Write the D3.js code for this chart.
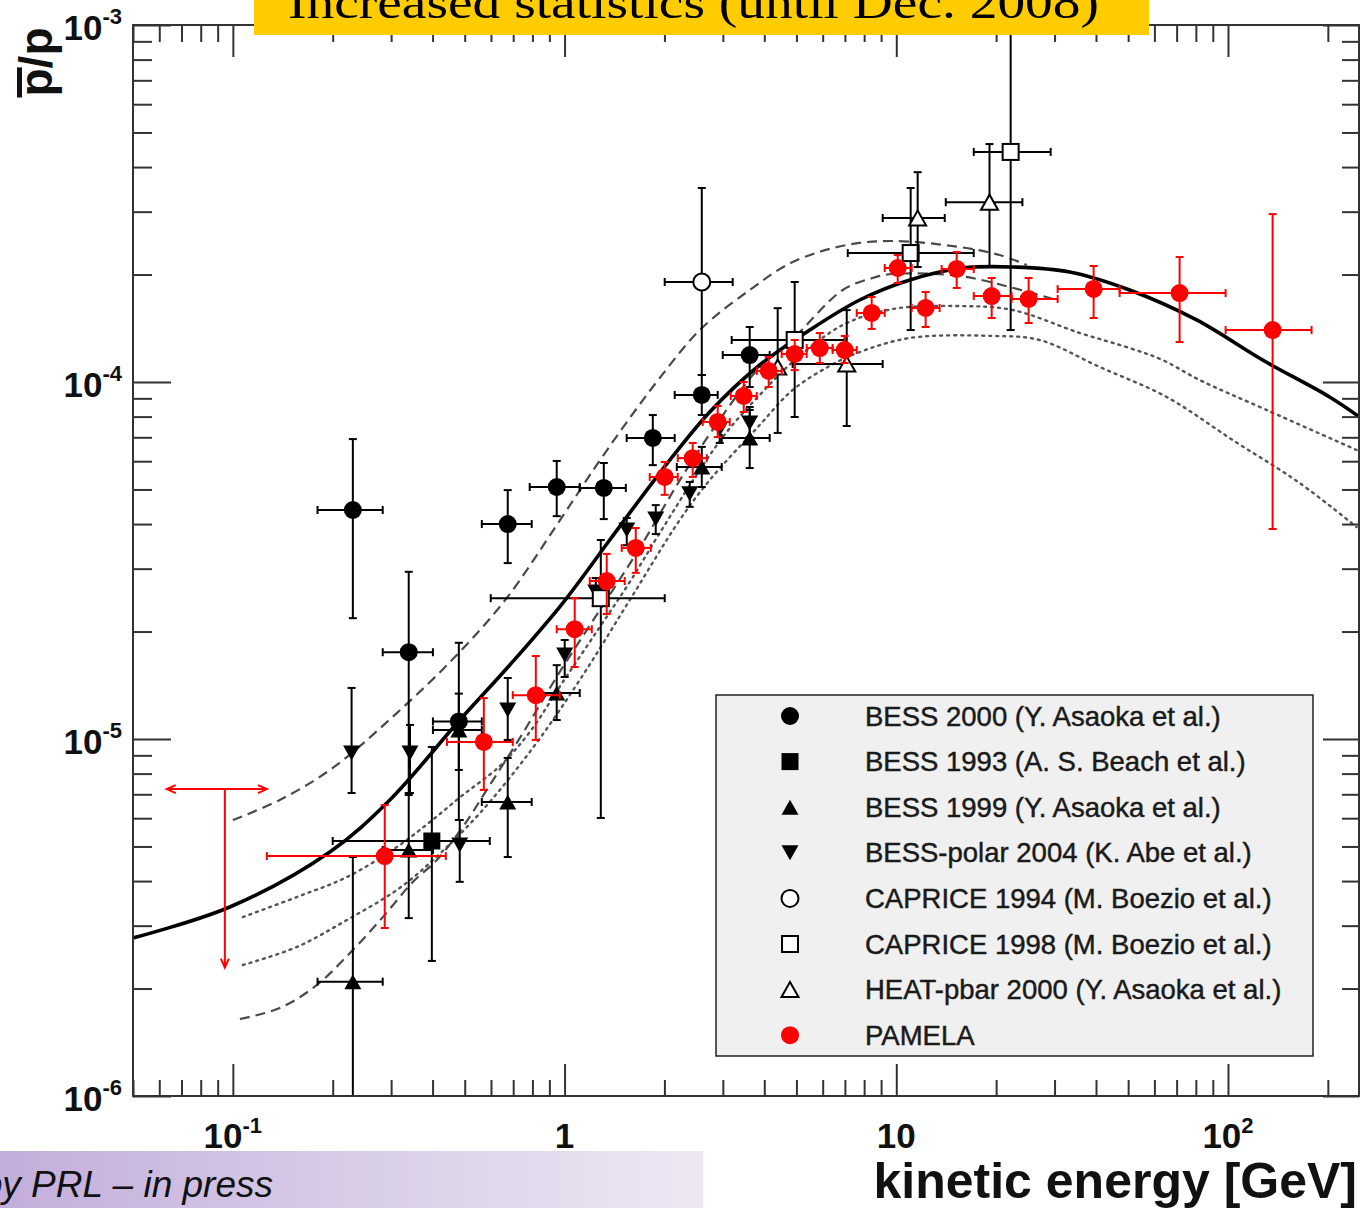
<!DOCTYPE html>
<html>
<head>
<meta charset="utf-8">
<script src="https://cdn.jsdelivr.net/npm/d3@7"></script>
<style>
body { margin: 0; background: #fff; }
svg { display: block; }
</style>
</head>
<body>
<div id="chart"></div>
<script>
// axis labels
var xMajor = [0.1, 1, 10, 100];
var xMajorLabels = [["10", "-1"], ["1", ""], ["10", ""], ["10", "2"]];
var yMajor = [1e-3, 1e-4, 1e-5, 1e-6];
var yMajorLabels = [["10", "-3"], ["10", "-4"], ["10", "-5"], ["10", "-6"]];

// points: [E, Elow, Ehigh, ratio, ratioLow, ratioHigh]  (null = no x error drawn)
var bess2000 = [
    [0.230, 0.180, 0.283, 4.38e-5, 2.18e-5, 6.92e-5],
    [0.339, 0.283, 0.401, 1.75e-5, 6.97e-6, 2.94e-5],
    [0.480, 0.401, 0.563, 1.12e-5, 5.93e-6, 1.86e-5],
    [0.674, 0.563, 0.796, 4.00e-5, 3.11e-5, 4.98e-5],
    [0.947, 0.785, 1.111, 5.08e-5, 4.21e-5, 6.01e-5],
    [1.313, 1.111, 1.530, 5.05e-5, 4.13e-5, 5.93e-5],
    [1.845, 1.539, 2.148, 6.97e-5, 5.85e-5, 8.08e-5],
    [2.592, 2.148, 2.895, 9.20e-5, 8.08e-5, 1.046e-4],
    [3.615, 2.998, 4.153, 1.19e-4, 9.68e-5, 1.426e-4]
];
var bess1993 = [
    [0.398, 0.200, 0.595, 5.18e-6, 2.39e-6, 9.50e-6]
];
var bess1999 = [
    [0.230, 0.180, 0.283, 2.09e-6, 5e-7, 4.67e-6],
    [0.339, 0.283, 0.401, 4.89e-6, 3.15e-6, 7.06e-6],
    [0.480, 0.401, 0.563, 1.06e-5, 8.19e-6, 1.34e-5],
    [0.674, 0.563, 0.796, 6.66e-6, 4.67e-6, 8.85e-6],
    [0.947, 0.796, 1.111, 1.345e-5, 1.13e-5, 1.61e-5],
    [2.592, 2.179, 2.977, 5.78e-5, 5.08e-5, 6.58e-5],
    [3.615, 2.977, 4.153, 6.97e-5, 5.74e-5, 8.51e-5]
];
var bessPolar2004 = [
    [0.228, null, null, 9.14e-6, 7.06e-6, 1.39e-5],
    [0.342, null, null, 9.14e-6, 7.06e-6, 1.095e-5],
    [0.483, null, null, 5.05e-6, 3.98e-6, 5.93e-6],
    [0.674, null, null, 1.206e-5, 9.94e-6, 1.482e-5],
    [1.001, null, null, 1.719e-5, 1.492e-5, 1.894e-5],
    [1.242, null, null, 2.58e-5, 2.358e-5, 2.825e-5],
    [1.540, null, null, 3.85e-5, 3.49e-5, 4.16e-5],
    [1.883, null, null, 4.13e-5, 3.75e-5, 4.52e-5],
    [2.384, null, null, 4.86e-5, 4.47e-5, 5.25e-5],
    [2.936, null, null, 7.39e-5, 6.75e-5, 7.83e-5],
    [3.615, null, null, 7.68e-5, 7.01e-5, 8.35e-5]
];
var caprice1994 = [
    [2.592, 2.004, 3.213, 1.906e-4, 1.046e-4, 3.495e-4]
];
var caprice1998 = [
    [1.286, 0.599, 2.004, 2.48e-5, 6.01e-6, 3.61e-5],
    [4.94, 3.19, 6.99, 1.311e-4, 7.98e-5, 1.906e-4],
    [11.05, 7.14, 17.12, 2.297e-4, 1.398e-4, 3.495e-4],
    [22.12, 17.12, 29.2, 4.41e-4, 1.398e-4, 1.2e-3]
];
var heatPbar2000 = [
    [4.39, null, null, 1.102e-4, 7.20e-5, 1.61e-4],
    [7.09, 4.87, 9.10, 1.123e-4, 7.53e-5, 1.59e-4],
    [11.6, 9.10, 14.0, 2.88e-4, 2.10e-4, 3.87e-4],
    [19.1, 14.1, 24.0, 3.19e-4, 2.10e-4, 4.64e-4]
];
var pamela = [
    [0.287, 0.1266, 0.4385, 4.70e-6, 2.955e-6, 6.53e-6],
    [0.571, 0.442, 0.698, 9.81e-6, 7.20e-6, 1.302e-5],
    [0.819, 0.698, 0.967, 1.327e-5, 9.94e-6, 1.708e-5],
    [1.073, 0.947, 1.208, 2.03e-5, 1.591e-5, 2.48e-5],
    [1.340, 1.191, 1.518, 2.77e-5, 2.24e-5, 3.30e-5],
    [1.639, 1.487, 1.819, 3.43e-5, 2.92e-5, 3.90e-5],
    [2.004, 1.806, 2.194, 5.42e-5, 4.83e-5, 5.97e-5],
    [2.434, 2.194, 2.683, 6.12e-5, 5.42e-5, 6.75e-5],
    [2.895, 2.609, 3.147, 7.73e-5, 7.01e-5, 8.57e-5],
    [3.468, 3.170, 3.796, 9.14e-5, 8.24e-5, 1.0e-4],
    [4.125, 3.796, 4.514, 1.074e-4, 9.68e-5, 1.175e-4],
    [4.94, 4.514, 5.37, 1.198e-4, 1.080e-4, 1.311e-4],
    [5.88, 5.37, 6.43, 1.245e-4, 1.130e-4, 1.372e-4],
    [6.99, 6.43, 7.60, 1.229e-4, 1.130e-4, 1.346e-4],
    [8.43, 7.60, 9.23, 1.561e-4, 1.408e-4, 1.730e-4],
    [10.10, 9.23, 11.13, 2.086e-4, 1.894e-4, 2.268e-4],
    [12.26, 11.13, 13.51, 1.612e-4, 1.426e-4, 1.787e-4],
    [15.21, 13.70, 17.12, 2.073e-4, 1.834e-4, 2.312e-4],
    [19.39, 17.12, 22.27, 1.741e-4, 1.511e-4, 1.956e-4],
    [25.06, 22.27, 30.65, 1.708e-4, 1.463e-4, 1.956e-4],
    [39.35, 30.65, 47.13, 1.822e-4, 1.511e-4, 2.113e-4],
    [71.47, 47.13, 98.35, 1.775e-4, 1.294e-4, 2.239e-4],
    [136.3, 98.35, 178.6, 1.398e-4, 3.875e-5, 2.953e-4]
];
// upper limit: [E, Elow, Ehigh, limit, arrow end]
var pamelaLimit = [[0.0946, 0.0632, 0.1267, 7.24e-6, 2.29e-6]];

// theory curves [E, ratio]
var plainDiffusion = [
    [0.050, 2.771e-6], [0.0979, 3.384e-6], [0.196, 4.826e-6], [0.2973, 6.749e-6],
    [0.4831, 1.130e-5], [0.6837, 1.612e-5], [0.9876, 2.404e-5], [1.368, 3.609e-5],
    [1.936, 5.559e-5], [2.739, 8.24e-5], [3.876, 1.116e-4], [5.483, 1.398e-4],
    [7.758, 1.697e-4], [10.98, 1.931e-4], [15.85, 2.086e-4], [22.43, 2.100e-4],
    [33.31, 2.033e-4], [50.51, 1.810e-4], [80.42, 1.492e-4], [127.2, 1.152e-4],
    [202.4, 9.08e-5], [249.2, 7.98e-5]
];
var diffusionUpper = [
    [0.100, 5.93e-6], [0.1385, 6.75e-6], [0.2001, 8.30e-6], [0.312, 1.182e-5],
    [0.4732, 1.719e-5], [0.6695, 2.483e-5], [0.9473, 3.975e-5], [1.250, 5.855e-5],
    [1.573, 7.93e-5], [1.936, 1.026e-4], [2.556, 1.398e-4], [3.615, 1.810e-4],
    [4.874, 2.168e-4], [7.088, 2.420e-4], [9.754, 2.483e-4], [15.53, 2.388e-4],
    [20.49, 2.268e-4], [24.72, 2.127e-4]
];
var diffusionLower = [
    [0.105, 1.643e-6], [0.1385, 1.764e-6], [0.1792, 2.046e-6], [0.230, 2.565e-6],
    [0.2832, 3.17e-6], [0.3487, 3.976e-6], [0.4119, 4.58e-6], [0.4933, 5.67e-6],
    [0.5951, 7.43e-6], [0.7328, 1.006e-5], [0.9672, 1.541e-5], [1.277, 2.297e-5],
    [1.685, 3.428e-5], [2.224, 5.30e-5], [2.936, 7.85e-5], [3.876, 1.10e-4],
    [4.874, 1.32e-4], [6.896, 1.810e-4], [8.49, 1.956e-4], [9.754, 2.007e-4],
    [15.53, 1.981e-4], [21.97, 1.845e-4], [30.44, 1.697e-4]
];
var leakyBoxUpper = [
    [0.1072, 3.172e-6], [0.1559, 3.609e-6], [0.2207, 4.105e-6], [0.312, 4.98e-6],
    [0.3925, 5.853e-6], [0.4933, 6.966e-6], [0.6379, 8.40e-6], [0.7853, 1.046e-5],
    [0.9876, 1.444e-5], [1.277, 2.059e-5], [1.573, 2.754e-5], [1.936, 3.776e-5],
    [2.556, 5.67e-5], [3.083, 7.244e-5], [3.876, 9.20e-5], [4.874, 1.138e-4],
    [6.896, 1.444e-4], [9.754, 1.601e-4], [15.53, 1.632e-4], [22.43, 1.591e-4],
    [35.70, 1.372e-4], [50.51, 1.245e-4], [63.53, 1.152e-4], [82.11, 1.013e-4],
    [130.7, 8.35e-5], [244.1, 6.45e-5]
];
var leakyBoxLower = [
    [0.1072, 2.328e-6], [0.1559, 2.615e-6], [0.2207, 3.112e-6], [0.312, 3.776e-6],
    [0.3925, 4.496e-6], [0.5555, 6.20e-6], [0.8019, 9.44e-6], [1.111, 1.463e-5],
    [1.573, 2.452e-5], [2.224, 4.105e-5], [2.739, 5.313e-5], [3.876, 7.578e-5],
    [4.874, 9.50e-5], [6.30, 1.109e-4], [7.758, 1.213e-4], [10.98, 1.328e-4],
    [19.52, 1.346e-4], [27.05, 1.311e-4], [41.02, 1.102e-4], [65.31, 9.08e-5],
    [103.3, 6.88e-5], [164.4, 5.213e-5], [244.1, 3.925e-5]
];

var legendNames = [
    "BESS 2000 (Y. Asaoka et al.)",
    "BESS 1993 (A. S. Beach et al.)",
    "BESS 1999 (Y. Asaoka et al.)",
    "BESS-polar 2004 (K. Abe et al.)",
    "CAPRICE 1994 (M. Boezio et al.)",
    "CAPRICE 1998 (M. Boezio et al.)",
    "HEAT-pbar 2000 (Y. Asaoka et al.)",
    "PAMELA"
];

var series = [
    {name: legendNames[0], data: bess2000, shape: "circle", open: false, color: "#000"},
    {name: legendNames[1], data: bess1993, shape: "square", open: false, color: "#000"},
    {name: legendNames[2], data: bess1999, shape: "up", open: false, color: "#000"},
    {name: legendNames[3], data: bessPolar2004, shape: "down", open: false, color: "#000"},
    {name: legendNames[4], data: caprice1994, shape: "circle", open: true, color: "#000"},
    {name: legendNames[5], data: caprice1998, shape: "square", open: true, color: "#000"},
    {name: legendNames[6], data: heatPbar2000, shape: "up", open: true, color: "#000"},
    {name: legendNames[7], data: pamela, shape: "circle", open: false, color: "#ff0000"}
];

var W = 1360, H = 1208;
var sans = "'Liberation Sans', Arial, Helvetica, sans-serif";
var frameL = 133, frameR = 1359, frameT = 25, frameB = 1096;

var svg = d3.select("#chart").append("svg")
    .attr("width", W)
    .attr("height", H)
    .style("background", "#fff");

var x = d3.scaleLog().domain([0.05, 250]).range([133, 1360]);
var y = d3.scaleLog().domain([1e-6, 1e-3]).range([1096, 25]);

svg.append("clipPath").attr("id", "frameClip")
    .append("rect")
    .attr("x", frameL).attr("y", frameT)
    .attr("width", frameR - frameL).attr("height", frameB - frameT);

var plotArea = svg.append("g").attr("clip-path", "url(#frameClip)");

// theory curves
var line = d3.line()
    .x(function(d) { return x(d[0]); })
    .y(function(d) { return y(d[1]); })
    .curve(d3.curveCatmullRom.alpha(0.5));

function drawCurve(data, width, dash, color) {
    plotArea.append("path")
        .datum(data)
        .attr("d", line)
        .attr("fill", "none")
        .attr("stroke", color)
        .attr("stroke-width", width)
        .attr("stroke-dasharray", dash)
        .attr("stroke-linecap", dash === "2,5" ? "round" : "butt");
}
drawCurve(leakyBoxUpper, 2.4, "2,5", "#555");
drawCurve(leakyBoxLower, 2.4, "2,5", "#555");
drawCurve(diffusionUpper, 2.2, "10,6", "#4a4a4a");
drawCurve(diffusionLower, 2.2, "10,6", "#4a4a4a");
drawCurve(plainDiffusion, 3.6, null, "#000");

// markers
function drawMarker(g, shape, cx, cy, open, color) {
    var fill = open ? "#fff" : color;
    var sw = open ? 2 : 0;
    if (shape === "circle") {
        g.append("circle").attr("cx", cx).attr("cy", cy).attr("r", open ? 8.5 : 9)
            .attr("fill", fill).attr("stroke", color).attr("stroke-width", sw);
    } else if (shape === "square") {
        var s = open ? 16 : 17;
        g.append("rect").attr("x", cx - s / 2).attr("y", cy - s / 2)
            .attr("width", s).attr("height", s)
            .attr("fill", fill).attr("stroke", color).attr("stroke-width", sw);
    } else {
        var w = 17, h = 15, dir = shape === "up" ? 1 : -1;
        var p = "M" + (cx - w / 2) + "," + (cy + dir * h / 2) +
            "L" + (cx + w / 2) + "," + (cy + dir * h / 2) +
            "L" + cx + "," + (cy - dir * h / 2) + "Z";
        g.append("path").attr("d", p)
            .attr("fill", fill).attr("stroke", color).attr("stroke-width", sw)
            .attr("stroke-linejoin", "miter");
    }
}

var cap = 4;
series.forEach(function(s) {
    var g = plotArea.append("g");
    s.data.forEach(function(d) {
        var px = x(d[0]), py = y(d[3]);
        var eb = g.append("g").attr("stroke", s.color).attr("stroke-width", 2);
        if (d[1] !== null) {
            var x0 = x(d[1]), x1 = x(d[2]);
            eb.append("line").attr("x1", x0).attr("x2", x1).attr("y1", py).attr("y2", py);
            eb.append("line").attr("x1", x0).attr("x2", x0).attr("y1", py - cap).attr("y2", py + cap);
            eb.append("line").attr("x1", x1).attr("x2", x1).attr("y1", py - cap).attr("y2", py + cap);
        }
        var y0 = y(d[4]), y1 = y(d[5]);
        eb.append("line").attr("x1", px).attr("x2", px).attr("y1", y0).attr("y2", y1);
        eb.append("line").attr("x1", px - cap).attr("x2", px + cap).attr("y1", y0).attr("y2", y0);
        eb.append("line").attr("x1", px - cap).attr("x2", px + cap).attr("y1", y1).attr("y2", y1);
    });
    s.data.forEach(function(d) {
        drawMarker(g, s.shape, x(d[0]), y(d[3]), s.open, s.color);
    });
});

// PAMELA upper limit with arrows
pamelaLimit.forEach(function(d) {
    var g = plotArea.append("g").attr("stroke", "#ff0000").attr("stroke-width", 2).attr("fill", "none");
    var px = x(d[0]), py = y(d[3]), x0 = x(d[1]), x1 = x(d[2]), ya = y(d[4]);
    g.append("line").attr("x1", x0).attr("x2", x1).attr("y1", py).attr("y2", py);
    g.append("line").attr("x1", px).attr("x2", px).attr("y1", py).attr("y2", ya);
    g.append("path").attr("d", "M" + (x0 + 9) + "," + (py - 4) + "L" + x0 + "," + py + "L" + (x0 + 9) + "," + (py + 4));
    g.append("path").attr("d", "M" + (x1 - 9) + "," + (py - 4) + "L" + x1 + "," + py + "L" + (x1 - 9) + "," + (py + 4));
    g.append("path").attr("d", "M" + (px - 4) + "," + (ya - 9) + "L" + px + "," + ya + "L" + (px + 4) + "," + (ya - 9));
});

// legend
var legX = 716, legY = 695, legW = 597, legH = 361, rowH = 45.6;
var legend = svg.append("g");
legend.append("rect")
    .attr("x", legX).attr("y", legY).attr("width", legW).attr("height", legH)
    .attr("fill", "#f0f0f0").attr("stroke", "#222").attr("stroke-width", 1.5);
series.forEach(function(s, i) {
    var cy = legY + 21 + i * rowH;
    drawMarker(legend, s.shape, 790, cy, s.open, s.color);
    legend.append("text")
        .attr("x", 865).attr("y", cy + 9.5)
        .attr("font-family", sans).attr("font-size", 27.5)
        .attr("fill", "#1a1a1a")
        .attr("stroke", "#1a1a1a").attr("stroke-width", 0.45)
        .text(s.name);
});

// ticks on all four sides
var xMinor = x.ticks().filter(function(v) { return xMajor.indexOf(+v.toPrecision(6)) < 0; });
var yMinor = y.ticks().filter(function(v) { return yMajor.indexOf(+v.toPrecision(6)) < 0; });

function tickAxis(axisFn, scale, values, size, tx, ty) {
    var g = svg.append("g")
        .attr("transform", "translate(" + tx + "," + ty + ")")
        .call(axisFn(scale).tickValues(values).tickSize(-size).tickFormat(""));
    g.select(".domain").remove();
    g.selectAll(".tick line").attr("stroke", "#333").attr("stroke-width", 2);
}
tickAxis(d3.axisBottom, x, xMinor, 16, 0, frameB);
tickAxis(d3.axisBottom, x, xMajor, 32, 0, frameB);
tickAxis(d3.axisTop, x, xMinor, 17, 0, frameT);
tickAxis(d3.axisTop, x, xMajor, 32, 0, frameT);
tickAxis(d3.axisLeft, y, yMinor, 19, frameL, 0);
tickAxis(d3.axisLeft, y, yMajor, 38, frameL, 0);
tickAxis(d3.axisRight, y, yMinor, 17, frameR, 0);
tickAxis(d3.axisRight, y, yMajor, 36, frameR, 0);

svg.append("rect")
    .attr("x", frameL).attr("y", frameT)
    .attr("width", frameR - frameL).attr("height", frameB - frameT)
    .attr("fill", "none").attr("stroke", "#333").attr("stroke-width", 2);

// tick labels
xMajor.forEach(function(v, i) {
    var t = svg.append("text")
        .attr("x", x(v)).attr("y", 1148)
        .attr("text-anchor", "middle")
        .attr("font-family", sans).attr("font-weight", "bold").attr("font-size", 35)
        .attr("fill", "#111");
    t.append("tspan").text(xMajorLabels[i][0]);
    if (xMajorLabels[i][1]) {
        t.append("tspan").attr("dy", -15).attr("font-size", 22).text(xMajorLabels[i][1]);
    }
});
yMajor.forEach(function(v, i) {
    var t = svg.append("text")
        .attr("x", 122).attr("y", y(v) + 15)
        .attr("text-anchor", "end")
        .attr("font-family", sans).attr("font-weight", "bold").attr("font-size", 35)
        .attr("fill", "#111");
    t.append("tspan").text(yMajorLabels[i][0]);
    t.append("tspan").attr("dy", -16).attr("font-size", 22).text(yMajorLabels[i][1]);
});

// axis titles
svg.append("text")
    .attr("x", 1357).attr("y", 1198)
    .attr("text-anchor", "end")
    .attr("font-family", sans).attr("font-weight", "bold").attr("font-size", 50)
    .attr("fill", "#111")
    .text("kinetic energy [GeV]");

var yTitle = svg.append("g").attr("transform", "translate(52,62) rotate(-90)");
var yTitleText = yTitle.append("text")
    .attr("text-anchor", "middle")
    .attr("font-family", sans).attr("font-weight", "bold").attr("font-size", 46)
    .attr("fill", "#111")
    .text("p/p");
var totalW = yTitleText.node().getComputedTextLength();
var pW = yTitleText.node().getSubStringLength(0, 1);
yTitle.append("rect")
    .attr("x", -totalW / 2 - 1).attr("y", -35)
    .attr("width", pW + 2).attr("height", 5)
    .attr("fill", "#111");

// banners
svg.append("rect").attr("x", 254).attr("y", 0).attr("width", 895).attr("height", 35).attr("fill", "#ffcc00");
svg.append("text")
    .attr("x", 288).attr("y", 18)
    .attr("font-family", "'Liberation Serif', 'Times New Roman', serif")
    .attr("font-size", 46)
    .attr("textLength", 811).attr("lengthAdjust", "spacingAndGlyphs")
    .attr("fill", "#000")
    .text("Increased statistics (until Dec. 2008)");

var grad = svg.append("defs").append("linearGradient").attr("id", "purple");
grad.append("stop").attr("offset", "0").attr("stop-color", "#c3aedb");
grad.append("stop").attr("offset", "0.6").attr("stop-color", "#dcd2e9");
grad.append("stop").attr("offset", "1").attr("stop-color", "#ece8f3");
svg.append("rect").attr("x", 0).attr("y", 1151).attr("width", 703).attr("height", 57).attr("fill", "url(#purple)");
svg.append("text")
    .attr("x", 273).attr("y", 1197)
    .attr("text-anchor", "end")
    .attr("font-family", sans).attr("font-style", "italic").attr("font-size", 37)
    .attr("fill", "#111")
    .text("by PRL \u2013 in press");
</script>
</body>
</html>
